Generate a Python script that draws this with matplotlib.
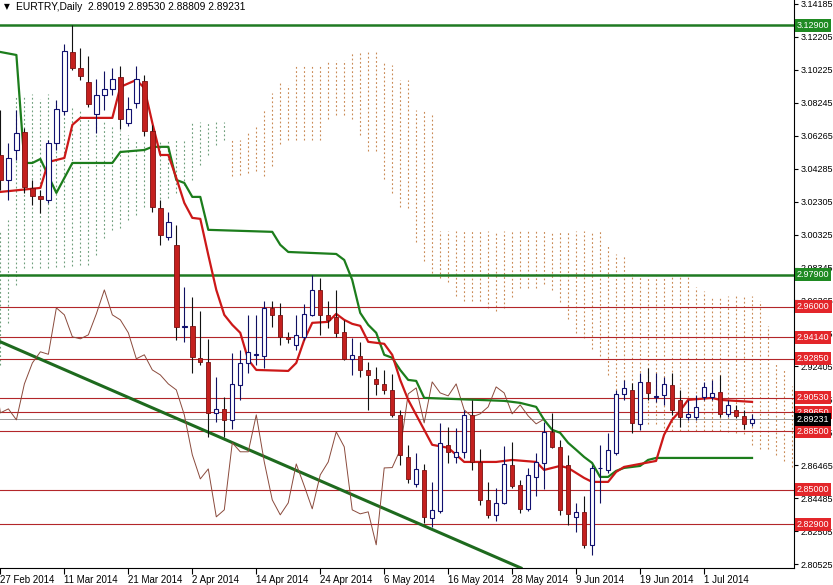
import numpy as np
import matplotlib
matplotlib.use('Agg')
import matplotlib.pyplot as plt
import matplotlib.transforms as mtransforms

plt.rcParams['font.family'] = ['Liberation Sans', 'DejaVu Sans']

# EURTRY daily candles, bar 0 = 27 Feb 2014 ... bar 94 = 9 Jul 2014
opens = [3.0511, 3.0361, 3.0541, 3.0650, 3.0313, 3.0265, 3.0241, 3.0584, 3.0776, 3.1130,
         3.1034, 3.0950, 3.0758, 3.0872, 3.0908, 3.0980, 3.0704, 3.0824, 3.0956, 3.0656,
         3.0193, 3.0019, 2.9971, 2.9478, 2.9484, 2.9292, 2.9267, 2.8961, 2.8985, 2.8919,
         2.9129, 2.9261, 2.9310, 2.9304, 2.9592, 2.9550, 2.9418, 2.9370, 2.9418, 2.9550,
         2.9700, 2.9550, 2.9538, 2.9448, 2.9286, 2.9304, 2.9219, 2.9165, 2.9135, 2.9099,
         2.8949, 2.8697, 2.8534, 2.8618, 2.8330, 2.8372, 2.8769, 2.8697, 2.8727, 2.8949,
         2.8666, 2.8438, 2.8348, 2.8420, 2.8648, 2.8528, 2.8384, 2.8576, 2.8660, 2.8847,
         2.8757, 2.8648, 2.8336, 2.8366, 2.8168, 2.8630, 2.8618, 2.8721, 2.9075, 2.9099,
         2.8895, 2.9147, 2.9057, 2.9069, 2.9129, 2.9039, 2.8937, 2.8937, 2.9057, 2.9057,
         2.9087, 2.8955, 2.8979, 2.8943, 2.89019]
highs = [3.0782, 3.0584, 3.0782, 3.0674, 3.0361, 3.0301, 3.0602, 3.0842, 3.1179, 3.1293,
         3.1155, 3.1106, 3.0968, 3.1016, 3.1034, 3.1046, 3.0860, 3.1046, 3.0992, 3.0692,
         3.0241, 3.0169, 3.0091, 2.9718, 2.9658, 2.9574, 2.9406, 2.9177, 2.9057, 2.9322,
         2.9340, 2.9550, 2.9550, 2.9634, 2.9634, 2.9622, 2.9448, 2.9550, 2.9616, 2.9790,
         2.9772, 2.9634, 2.9700, 2.9520, 2.9412, 2.9388, 2.9267, 2.9237, 2.9219, 2.9195,
         2.8979, 2.8769, 2.8721, 2.8654, 2.8546, 2.8901, 2.8877, 2.8871, 2.8979, 2.9039,
         2.8745, 2.8546, 2.8510, 2.8763, 2.8787, 2.8558, 2.8630, 2.8721, 2.8907, 2.8961,
         2.8799, 2.8709, 2.8420, 2.8462, 2.8648, 2.8769, 2.8841, 2.9099, 2.9159, 2.9141,
         2.9201, 2.9231, 2.9201, 2.9177, 2.9201, 2.9099, 2.9039, 2.9069, 2.9147, 2.9159,
         2.9189, 2.9039, 2.9009, 2.8979, 2.89530]
lows = [3.0301, 3.0241, 3.0481, 3.0283, 3.0211, 3.0163, 3.0223, 3.0541, 3.0752, 3.1022,
        3.0962, 3.0800, 3.0644, 3.0782, 3.0872, 3.0668, 3.0686, 3.0794, 3.0626, 3.0169,
        2.9971, 3.0001, 2.9400, 2.9388, 2.9201, 2.9249, 2.8817, 2.8907, 2.8817, 2.8865,
        2.9039, 2.9201, 2.9249, 2.9231, 2.9478, 2.9370, 2.9382, 2.9340, 2.9400, 2.9545,
        2.9430, 2.9472, 2.9418, 2.9280, 2.9189, 2.9177, 2.8979, 2.9069, 2.9075, 2.8937,
        2.8648, 2.8540, 2.8516, 2.8300, 2.8276, 2.8360, 2.8660, 2.8660, 2.8691, 2.8618,
        2.8408, 2.8330, 2.8312, 2.8415, 2.8510, 2.8360, 2.8372, 2.8462, 2.8504, 2.8751,
        2.8348, 2.8288, 2.8246, 2.8150, 2.8108, 2.8420, 2.8600, 2.8709, 2.9039, 2.8841,
        2.8859, 2.9039, 2.9027, 2.9009, 2.8949, 2.8877, 2.8919, 2.8919, 2.9039, 2.9039,
        2.8937, 2.8937, 2.8931, 2.8865, 2.88809]
closes = [3.0361, 3.0493, 3.0644, 3.0319, 3.0265, 3.0247, 3.0584, 3.0788, 3.1136, 3.1034,
          3.0986, 3.0818, 3.0872, 3.0908, 3.0968, 3.0728, 3.0788, 3.0968, 3.0656, 3.0199,
          3.0031, 3.0109, 2.9478, 2.9481, 2.9298, 2.9267, 2.8961, 2.8985, 2.8919, 2.9135,
          2.9261, 2.9328, 2.9313, 2.9592, 2.9550, 2.9418, 2.9406, 2.9430, 2.9556, 2.9700,
          2.9550, 2.9520, 2.9442, 2.9286, 2.9310, 2.9219, 2.9189, 2.9135, 2.9099, 2.8949,
          2.8709, 2.8564, 2.8624, 2.8336, 2.8378, 2.8781, 2.8727, 2.8727, 2.8949, 2.8666,
          2.8438, 2.8348, 2.8420, 2.8654, 2.8522, 2.8384, 2.8588, 2.8666, 2.8847, 2.8757,
          2.8378, 2.8354, 2.8366, 2.8168, 2.8630, 2.8632, 2.8739, 2.9075, 2.9111, 2.8901,
          2.9147, 2.9081, 2.9063, 2.9135, 2.8979, 2.8937, 2.8955, 2.8997, 2.9117, 2.9081,
          2.8955, 2.9009, 2.8943, 2.8895, 2.89231]

# Ichimoku tenkan-sen / kijun-sen (bar, value) break points
tenkan_bar = [0, 5, 6, 8, 9, 10, 14, 15, 17, 18, 19, 20, 21, 22, 23, 24, 25, 26, 27, 28,
              29, 30, 31, 32, 36, 37, 38, 39, 41, 42, 43, 44, 45, 46, 48, 49, 50, 51, 52, 53,
              54, 56, 57, 58, 62, 64, 67, 68, 70, 71, 72, 73, 74, 76, 77, 78, 80, 82, 83, 84,
              85, 86, 89, 90, 94]
tenkan_val = [3.0289, 3.0313, 3.0469, 3.0493, 3.0692, 3.0734, 3.0734, 3.0920, 3.0962, 3.0914,
              3.0704, 3.0511, 3.0511, 3.0373, 3.0223, 3.0133, 3.0127, 2.9910, 2.9700, 2.9550,
              2.9490, 2.9442, 2.9280, 2.9219, 2.9213, 2.9261, 2.9400, 2.9502, 2.9508, 2.9556,
              2.9520, 2.9496, 2.9484, 2.9388, 2.9376, 2.9310, 2.9159, 2.9039, 2.8949, 2.8859,
              2.8769, 2.8751, 2.8709, 2.8666, 2.8666, 2.8678, 2.8666, 2.8618, 2.8642, 2.8630,
              2.8600, 2.8570, 2.8546, 2.8546, 2.8606, 2.8636, 2.8654, 2.8672, 2.8829, 2.8919,
              2.8973, 2.9039, 2.9051, 2.9039, 2.9027]
kijun_bar = [0, 2, 3, 4, 5, 7, 9, 14, 15, 18, 19, 21, 22, 23, 24, 25, 26, 34, 35, 36,
             42, 43, 44, 45, 46, 47, 48, 49, 50, 51, 52, 53, 63, 64, 65, 66, 67, 68, 69, 70,
             71, 72, 73, 74, 75, 76, 77, 78, 80, 81, 82, 94]
kijun_val = [3.1130, 3.1112, 3.0463, 3.0463, 3.0487, 3.0283, 3.0463, 3.0463, 3.0529, 3.0541,
             3.0560, 3.0560, 3.0361, 3.0343, 3.0259, 3.0259, 3.0061, 3.0049, 2.9971, 2.9928,
             2.9916, 2.9880, 2.9760, 2.9562, 2.9490, 2.9442, 2.9310, 2.9292, 2.9219, 2.9159,
             2.9153, 2.9051, 2.9033, 2.9027, 2.9021, 2.9009, 2.8997, 2.8919, 2.8859, 2.8841,
             2.8781, 2.8739, 2.8696, 2.8660, 2.8576, 2.8576, 2.8612, 2.8630, 2.8642, 2.8678,
             2.8690, 2.8690]

# senkou span A / B per bar 0..99 (cloud)
span_a = [3.0061, 3.0121, 3.0860, 3.0872, 3.0878, 3.0848, 3.0878, 3.0848, 3.0812, 3.0800,
          3.0782, 3.0734, 3.0722, 3.0722, 3.0692, 3.0662, 3.0632, 3.0602, 3.0602, 3.0602,
          3.0602, 3.0602, 3.0602, 3.0602, 3.0710, 3.0710, 3.0710, 3.0713, 3.0707, 3.0385,
          3.0388, 3.0400, 3.0415, 3.0385, 3.0442, 3.0578, 3.0599, 3.0599, 3.0599, 3.0599,
          3.0599, 3.0725, 3.0752, 3.0752, 3.0728, 3.0632, 3.0536, 3.0536, 3.0367, 3.0283,
          3.0196, 3.0193, 2.9986, 2.9874, 2.9799, 2.9769, 2.9745, 2.9664, 2.9634, 2.9631,
          2.9631, 2.9592, 2.9571, 2.9589, 2.9658, 2.9709, 2.9712, 2.9712, 2.9736, 2.9700,
          2.9628, 2.9523, 2.9439, 2.9412, 2.9342, 2.9300, 2.9189, 2.9099, 2.9051, 2.8955,
          2.8901, 2.8895, 2.8892, 2.8871, 2.8850, 2.8850, 2.8850, 2.8850, 2.8850, 2.8853,
          2.8853, 2.8847, 2.8841, 2.8832, 2.8769, 2.8745, 2.8742, 2.8705, 2.8669, 2.8633]
span_b = [2.9249, 2.9502, 2.9730, 2.9832, 2.9832, 2.9832, 2.9832, 2.9838, 2.9838, 2.9844,
          2.9850, 2.9850, 2.9910, 3.0013, 3.0061, 3.0073, 3.0121, 3.0151, 3.0199, 3.0211,
          3.0223, 3.0253, 3.0283, 3.0331, 3.0361, 3.0451, 3.0511, 3.0572, 3.0602, 3.0602,
          3.0602, 3.0650, 3.0692, 3.0782, 3.0884, 3.0944, 3.0932, 3.1052, 3.1052, 3.1052,
          3.1052, 3.1082, 3.1082, 3.1082, 3.1130, 3.1130, 3.1130, 3.1130, 3.1064, 3.1052,
          3.0962, 3.0962, 3.0782, 3.0782, 3.0752, 3.0055, 3.0055, 3.0055, 3.0055, 3.0055,
          3.0055, 3.0055, 3.0055, 3.0055, 3.0055, 3.0055, 3.0055, 3.0055, 3.0055, 3.0055,
          3.0055, 3.0055, 3.0055, 3.0055, 3.0055, 3.0055, 2.9971, 2.9917, 2.9904, 2.9796,
          2.9784, 2.9784, 2.9784, 2.9784, 2.9784, 2.9784, 2.9784, 2.9715, 2.9691, 2.9661,
          2.9661, 2.9661, 2.9661, 2.9661, 2.9661, 2.9634, 2.9484, 2.9258, 2.9222, 2.9120]

date_labels = ['27 Feb 2014', '11 Mar 2014', '21 Mar 2014', '2 Apr 2014', '14 Apr 2014',
               '24 Apr 2014', '6 May 2014', '16 May 2014', '28 May 2014', '9 Jun 2014',
               '19 Jun 2014', '1 Jul 2014']
price_ticks = [3.14185, 3.12205, 3.10225, 3.08245, 3.06265, 3.04285, 3.02305, 3.00325,
               2.98345, 2.96365, 2.94385, 2.92405, 2.90425, 2.88445, 2.86465, 2.84485,
               2.82505, 2.80525]
green_levels = [3.12900, 2.97900]
red_levels = [2.96000, 2.94140, 2.92850, 2.90530, 2.89650, 2.88500, 2.85000, 2.82900]
last_price = 2.89231
trend_bar = [0, 60]
trend_val = [2.9388, 2.8135]

fig = plt.figure(figsize=(8.33, 5.85), dpi=100)
ax = fig.add_axes([0, 17 / 585, 794 / 833, 568 / 585])
ax.set_xlim(-0.05, 99.25)
ax.set_ylim(2.80285, 3.14425)

bars = np.arange(len(closes))
o = np.array(opens); h = np.array(highs); l = np.array(lows); c = np.array(closes)
up = c >= o

# cloud as dotted vertical lines
cb = np.arange(len(span_a))
sa = np.array(span_a); sb = np.array(span_b)
bull_cloud = sa >= sb
ax.vlines(cb[bull_cloud], sb[bull_cloud], sa[bull_cloud], colors='#6f9f7c',
          linestyles=(0, (1.6, 2.2)), lw=0.8, zorder=1)
ax.vlines(cb[~bull_cloud], sa[~bull_cloud], sb[~bull_cloud], colors='#c98a55',
          linestyles=(0, (1.6, 2.2)), lw=0.8, zorder=1)

# horizontal levels
for lv in red_levels:
    ax.axhline(lv, color='#b3262a', lw=0.8, zorder=2)
for lv in green_levels:
    ax.axhline(lv, color='#1f7a22', lw=1.8, zorder=2)
ax.axhline(last_price, color='#9a9a9a', lw=0.7, zorder=2)

# trend line
ax.axline((trend_bar[0], trend_val[0]), (trend_bar[1], trend_val[1]),
          color='#1e6a1e', lw=2.2, zorder=3)

# chikou span = close shifted 26 bars back
ax.plot(bars - 26, c, color='#8a4a3c', lw=0.7, zorder=3)
ax.plot(kijun_bar, kijun_val, color='#1c7d1c', lw=1.6, zorder=3)
ax.plot(tenkan_bar, tenkan_val, color='#cc1818', lw=1.6, zorder=3)

# candles
ax.vlines(bars[up], l[up], h[up], colors='#101060', lw=0.8, zorder=4)
ax.vlines(bars[~up], l[~up], h[~up], colors='#111111', lw=0.8, zorder=4)
ax.bar(bars[up], c[up] - o[up], bottom=o[up], width=0.55, color='white',
       edgecolor='#101070', lw=0.8, zorder=5)
ax.bar(bars[~up], o[~up] - c[~up], bottom=c[~up], width=0.55, color='#c4201e',
       edgecolor='#7a1010', lw=0.6, zorder=5)

# axes styling
for s in ['left', 'top']:
    ax.spines[s].set_visible(False)
ax.spines['right'].set_color('black')
ax.spines['bottom'].set_color('black')
ax.yaxis.tick_right()
ax.set_yticks(price_ticks)
ax.set_yticklabels([f'{t:.5f}' for t in price_ticks])
ax.tick_params(axis='y', direction='out', length=3, pad=1.5, labelsize=6.5, colors='black')
ax.set_xticks(np.arange(0, 8 * len(date_labels), 8))
ax.set_xticklabels(date_labels)
ax.tick_params(axis='x', direction='out', length=4, pad=1, labelsize=7)
for lab in ax.get_xticklabels():
    lab.set_ha('left')

# price boxes on the right scale
trans = mtransforms.blended_transform_factory(ax.transAxes, ax.transData)
def box(val, fc):
    ax.text(1.0 + 3 / 794, val, f'{val:.5f}', transform=trans, ha='left', va='center',
            fontsize=6.5, color='white', zorder=10,
            bbox=dict(boxstyle='square,pad=0.22', fc=fc, ec='none'))
for lv in green_levels:
    box(lv, '#1f8a22')
for lv in red_levels:
    box(lv, '#e3262a')
box(last_price, '#000000')

# header
ax.text(4 / 794, 1 - 7 / 568, '\u25bc', transform=ax.transAxes, fontsize=5.5,
        va='center', ha='left', family='DejaVu Sans')
ax.text(16 / 794, 1 - 7 / 568,
        'EURTRY,Daily  %.5f %.5f %.5f %.5f' % (opens[-1], highs[-1], lows[-1], closes[-1]),
        transform=ax.transAxes, fontsize=7.4, va='center', ha='left')

fig.savefig('out.png', dpi=100, facecolor='white')
